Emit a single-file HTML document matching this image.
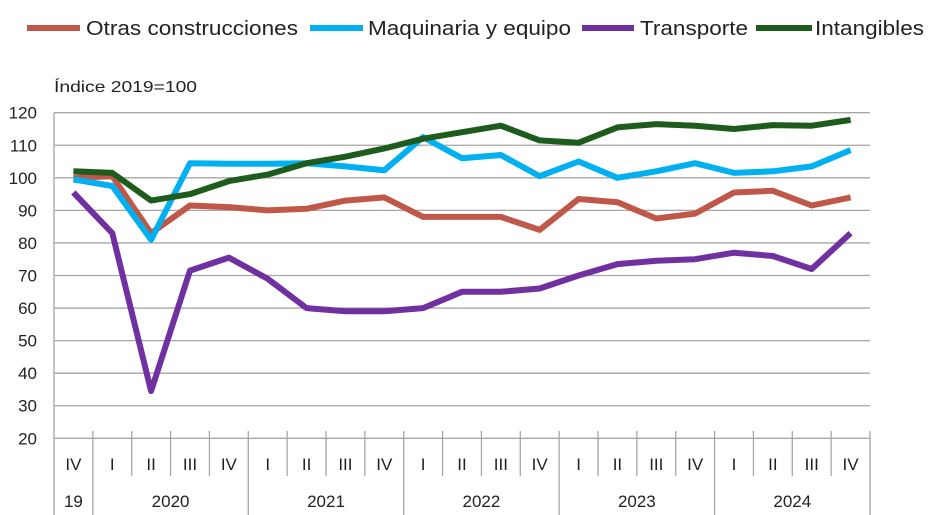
<!DOCTYPE html>
<html><head><meta charset="utf-8"><style>
html,body{margin:0;padding:0;background:#fff;}
svg{display:block;font-family:"Liberation Sans",sans-serif;}
</style></head><body>
<svg width="936" height="515" viewBox="0 0 936 515" xmlns="http://www.w3.org/2000/svg">
<g font-size="20" fill="#222">
<rect x="27" y="25" width="53" height="6" fill="#c0584a"/>
<text x="86" y="35" textLength="212" lengthAdjust="spacingAndGlyphs">Otras construcciones</text>
<rect x="310" y="25" width="53" height="6" fill="#00b0f0"/>
<text x="368" y="35" textLength="203" lengthAdjust="spacingAndGlyphs">Maquinaria y equipo</text>
<rect x="582" y="25" width="52" height="6" fill="#7030a0"/>
<text x="640" y="35" textLength="108" lengthAdjust="spacingAndGlyphs">Transporte</text>
<rect x="756" y="25" width="56" height="6" fill="#1e5c1e"/>
<text x="815" y="35" textLength="109" lengthAdjust="spacingAndGlyphs">Intangibles</text>
</g>
<text x="54" y="92" font-size="16" fill="#222" textLength="143" lengthAdjust="spacingAndGlyphs">Índice 2019=100</text>
<g id="grid" stroke="#a6a6a6" stroke-width="1.3"></g>
<g id="lab" font-size="17" fill="#222"></g>
<g id="series" fill="none" stroke-width="6" stroke-linejoin="round"></g>
</svg>
<script>
const NS="http://www.w3.org/2000/svg";
const g=document.getElementById('grid'),lab=document.getElementById('lab'),ser=document.getElementById('series');
const L=54,R=870,T=112.7,B=438.3,W=(R-L)/21;
const Y=v=>B-(v-20)*(B-T)/100;
function el(p,t,a,txt){const e=document.createElementNS(NS,t);for(const k in a)e.setAttribute(k,a[k]);if(txt!=null)e.textContent=txt;p.appendChild(e);return e;}
for(let v=20;v<=120;v+=10){el(g,'line',{x1:L,x2:R,y1:Y(v),y2:Y(v)});el(lab,'text',{x:L-17,y:Y(v)+6,'text-anchor':'end'},v);}
el(g,'line',{x1:L,x2:L,y1:T,y2:515});
el(g,'line',{x1:R,x2:R,y1:431,y2:515});
const q=['IV','I','II','III','IV','I','II','III','IV','I','II','III','IV','I','II','III','IV','I','II','III','IV'];
for(let i=0;i<21;i++){const cx=L+W*(i+0.5);el(lab,'text',{x:cx,y:470,'text-anchor':'middle'},q[i]);
 if(i>0){const yr=(i-1)%4===0;el(g,'line',{x1:L+W*i,x2:L+W*i,y1:431,y2:yr?515:476});}}
el(lab,'text',{x:L+W*0.5,y:507,'text-anchor':'middle'},'19');
['2020','2021','2022','2023','2024'].forEach((y,k)=>el(lab,'text',{x:L+W*(1+4*k+2),y:507,'text-anchor':'middle'},y));
const data=[
['#c0584a',[100,100.5,83,91.5,91,90,90.5,93,94,88,88,88,84,93.5,92.5,87.5,89,95.5,96,91.5,94]],
['#00b0f0',[99.5,97.5,81,104.5,104.3,104.3,104.5,103.5,102.3,112.5,106,107,100.5,105,100,102,104.5,101.5,102,103.5,108.5]],
['#7030a0',[95.5,83,34.5,71.5,75.5,69,60,59,59,60,65,65,66,70,73.5,74.5,75,77,76,72,83]],
['#1e5c1e',[102,101.5,93,95,99,101,104.5,106.5,109,112,114,116,111.5,110.8,115.5,116.5,116,115,116.2,116,117.8]]];
data.forEach(([c,d])=>el(ser,'polyline',{stroke:c,points:d.map((v,i)=>(L+W*(i+0.5)).toFixed(1)+','+Y(v).toFixed(1)).join(' ')}));
</script>
</body></html>
